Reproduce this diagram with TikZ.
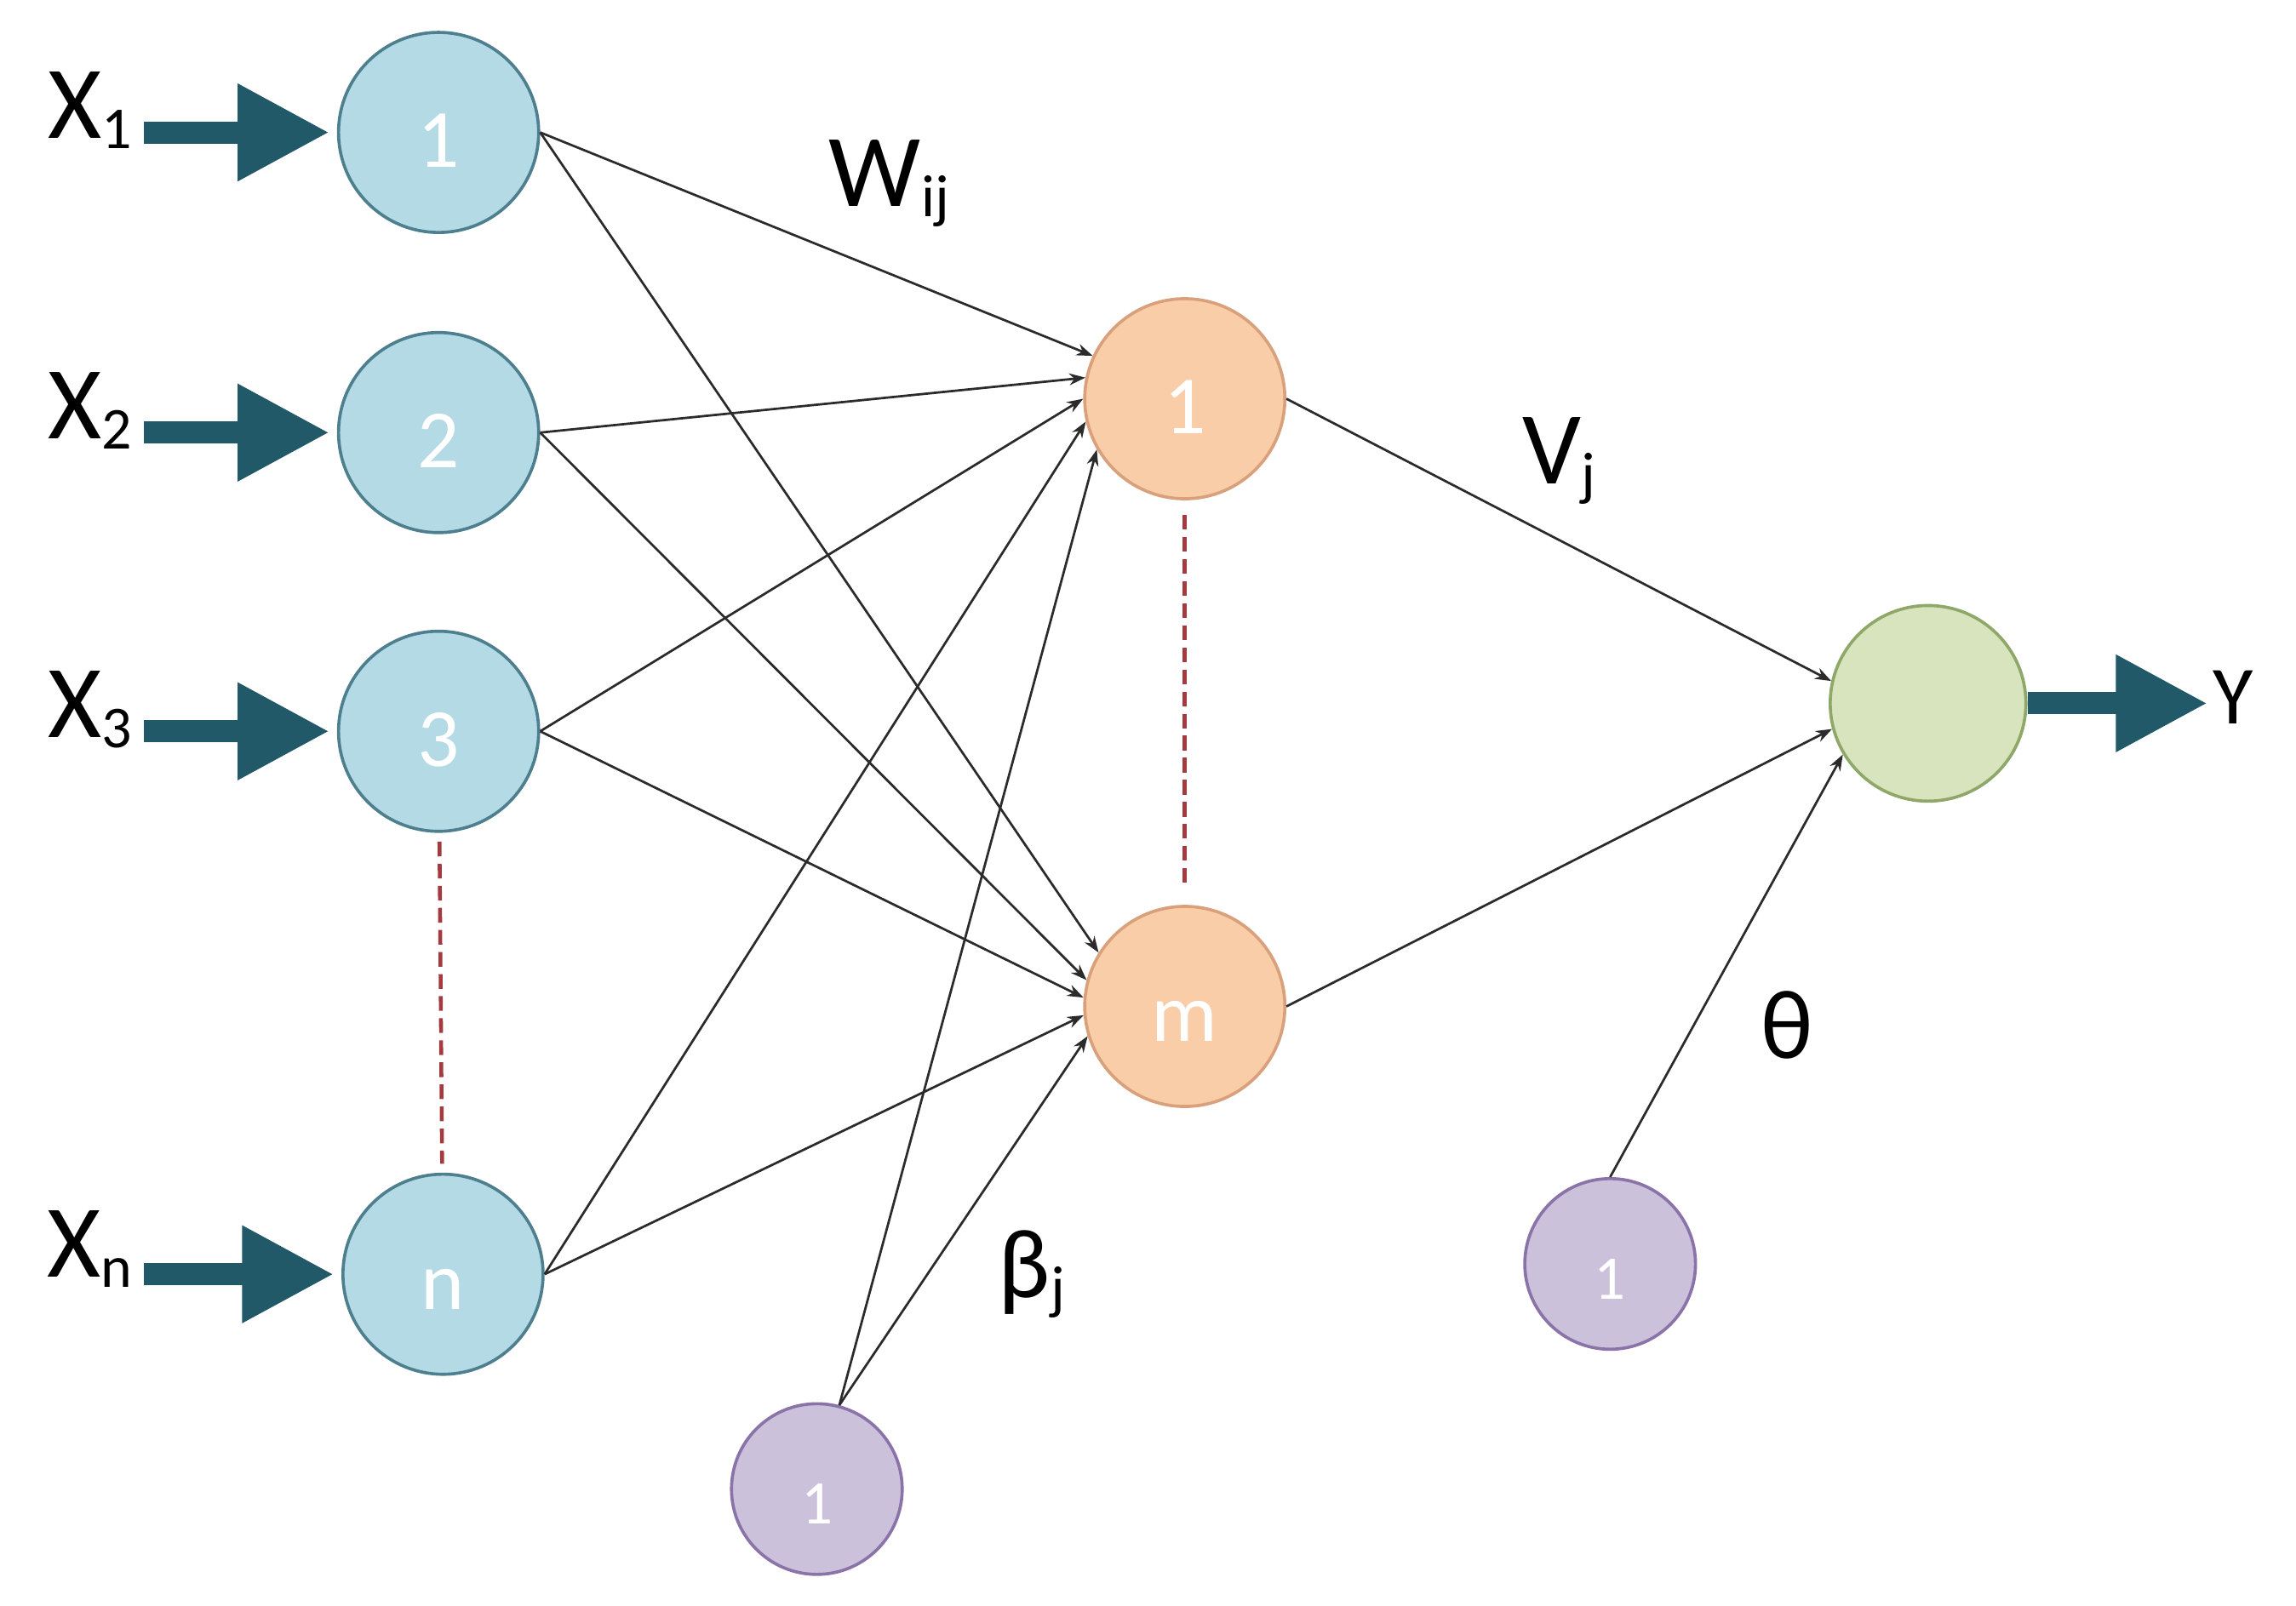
\documentclass[tikz,border=0pt]{standalone}
\usepackage{fontspec}
\setmainfont{Carlito}
\usepackage{tikz}
\usetikzlibrary{arrows.meta}

\definecolor{infill}{HTML}{B4DAE6}
\definecolor{inborder}{HTML}{4E7F8F}
\definecolor{hidfill}{HTML}{F9CDA8}
\definecolor{hidborder}{HTML}{D9A07C}
\definecolor{outfill}{HTML}{D7E4BD}
\definecolor{outborder}{HTML}{8FA86A}
\definecolor{biasfill}{HTML}{CCC1DA}
\definecolor{biasborder}{HTML}{8A73A8}
\definecolor{arrowteal}{HTML}{215968}
\definecolor{gapred}{HTML}{A33A3F}
\definecolor{wirecol}{HTML}{2B2B2B}

\newcommand{\lsub}[1]{\raisebox{-0.1em}{\fontsize{23}{23}\selectfont #1}}

\tikzset{
  neuron/.style={circle, line width=1.2pt, minimum size=2.72cm, inner sep=0pt,
    text=white, text height=0.95cm, text depth=0cm, font=\fontsize{32}{32}\selectfont},
  inode/.style={neuron, draw=inborder, fill=infill},
  hnode/.style={neuron, draw=hidborder, fill=hidfill},
  onode/.style={neuron, draw=outborder, fill=outfill, minimum size=2.66cm},
  bnode/.style={neuron, draw=biasborder, fill=biasfill, minimum size=2.32cm,
    font=\fontsize{24}{24}\selectfont},
  wire/.style={draw=wirecol, line width=0.9pt, -{Stealth[length=0.22cm,width=0.16cm]}},
  bigarrow/.style={draw=arrowteal, line width=0.3cm, -{Triangle[length=1.25cm,width=1.24cm]}},
  gap/.style={draw=gapred, line width=1.5pt, dash pattern=on 0.2cm off 0.1cm},
  lbl/.style={inner sep=0pt, font=\fontsize{40}{40}\selectfont}
}

\begin{document}
\begin{tikzpicture}[x=0.02cm,y=-0.02cm]
  \useasboundingbox (0,0) rectangle (1560,1091);
  % input layer
  \foreach \n/\y in {1/90, 2/294, 3/497}
    \node[inode] (i\n) at (298,\y) {\n};
  \node[inode] (iN) at (301,866) {n};
  \foreach \n/\y in {1/90, 2/294, 3/497}
    \node[lbl, anchor=base east] (x\n) at (90,\y+4) {X\lsub{\n}};
  \node[lbl, anchor=base east] (xN) at (90,868) {X\lsub{n}};
  \foreach \n in {1,2,3,N}
    \draw[bigarrow, shorten <=0.16cm, shorten >=0.1cm] (i\n.west -| x\n.east) -- (i\n.west);
  \draw[gap, shorten <=0.12cm, shorten >=0.12cm] (i3) -- (iN);

  % hidden layer and output
  \node[hnode] (h1) at (805,271) {1};
  \node[hnode] (hm) at (805,684) {m};
  \node[onode] (o) at (1310,478) {};
  \node[bnode] (b1) at (555,1012) {1};
  \node[bnode] (b2) at (1094,859) {1};
  \draw[gap, shorten <=0.2cm, shorten >=0.2cm] (h1) -- (hm);

  \foreach \s/\a/\b in {i1/155/148, i2/168/165, i3/180/175, iN/193/185}{
    \draw[wire] (\s.east) -- (h1.\a);
    \draw[wire] (\s.east) -- (hm.\b);
  }
  \draw[wire] (b1.75) -- (h1.210);
  \draw[wire] (b1.75) -- (hm.197);
  \draw[wire] (h1.east) -- (o.167);
  \draw[wire] (hm.east) -- (o.195);
  \draw[wire] (b2.north) -- (o.211);

  \node[lbl, anchor=base west] (y) at (1503,492) {\fontsize{32}{32}\selectfont Y};
  \draw[bigarrow, shorten >=0.06cm] (o.east) -- (o.east -| y.west);

  % weight labels
  \node[lbl, anchor=base west] (w) at (563,140) {W\lsub{ij}};
  \node[lbl, anchor=base west] (v) at (1034,329) {V\lsub{j}};
  \node[lbl, anchor=base west, font=\fontsize{38}{38}\selectfont] (beta) at (678,882) {β\lsub{j}};
  \node[lbl, anchor=base west, font=\fontsize{38}{38}\selectfont] (theta) at (1196,719) {θ};
\end{tikzpicture}
\end{document}
